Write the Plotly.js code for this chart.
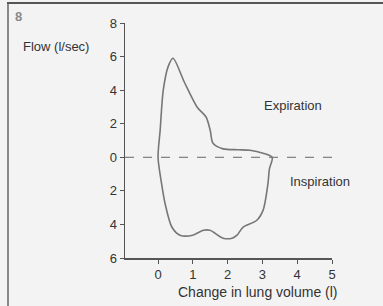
<!DOCTYPE html>
<html>
<head>
<meta charset="utf-8">
<script src="https://cdn.plot.ly/plotly-3.0.1.min.js"></script>
<style>
html,body{margin:0;padding:0;background:#f3f3f3;}
#chart{width:383px;height:306px;}
</style>
</head>
<body>
<div id="chart"></div>
<script>
// Flow-volume loop: volume (l) and flow (l/sec), expiration positive, inspiration negative
const volume = [0, 0.06, 0.15, 0.29, 0.43, 0.75, 1.12, 1.38, 1.5, 1.58, 1.87, 2.3, 2.64, 3.02, 3.28,
                3.2, 3.16, 3.02, 2.84, 2.44, 2.27, 2.13, 1.87, 1.49, 1.3, 1.0, 0.63, 0.4, 0.2, 0.1, 0];
const flow   = [0, 1.6, 4.0, 5.4, 5.9, 4.5, 3.0, 2.4, 1.6, 0.83, 0.5, 0.45, 0.42, 0.24, 0,
                -0.7, -1.55, -3.15, -3.75, -4.17, -4.64, -4.82, -4.82, -4.35, -4.35, -4.64, -4.64, -4.17, -2.74, -1.55, 0];
const yTickVals = [-6, -4, -2, 0, 2, 4, 6, 8];
const yTickText = ['6', '4', '2', '0', '2', '4', '6', '8'];
const xTickVals = [0, 1, 2, 3, 4, 5];
const xTickText = ['0', '1', '2', '3', '4', '5'];
const zeroLineX = [-0.95, 5];
const zeroLineY = [0, 0];

const traces = [
  {x: zeroLineX, y: zeroLineY, mode: 'lines', line: {color: '#666', width: 1, dash: 'dash'}, hoverinfo: 'skip', showlegend: false},
  {x: volume, y: flow, mode: 'lines', line: {color: '#777', width: 1.6, shape: 'spline', smoothing: 0.8}, showlegend: false}
];

const M = {l: 125, r: 51, t: 23, b: 48};
const plotW = 383 - M.l - M.r, plotH = 306 - M.t - M.b;
const px = v => (v - M.l) / plotW;
const py = v => 1 - (v - M.t) / plotH;
const txt = '#333';

const layout = {
  width: 383, height: 306,
  margin: M,
  paper_bgcolor: '#f3f3f3', plot_bgcolor: '#f3f3f3',
  font: {family: 'Liberation Sans, Arial, sans-serif', size: 13, color: txt},
  showlegend: false,
  xaxis: {range: [-0.95, 5], tickvals: xTickVals, ticktext: xTickText, showgrid: false, zeroline: false,
          showline: true, linecolor: '#555', linewidth: 1.5, ticks: 'outside', ticklen: 4, tickcolor: '#555',
          tickfont: {size: 13, color: txt}},
  yaxis: {range: [-6, 8], tickvals: yTickVals, ticktext: yTickText, showgrid: false, zeroline: false,
          showline: true, linecolor: '#555', linewidth: 1.5, ticks: 'outside', ticklen: 4, tickcolor: '#555',
          tickfont: {size: 13, color: txt}},
  annotations: [
    {xref: 'paper', yref: 'paper', x: px(21), y: py(46), xanchor: 'left', yanchor: 'middle', showarrow: false,
     text: 'Flow (l/sec)', font: {size: 13, color: txt}},
    {xref: 'x', yref: 'y', x: 3.87, y: 3.1, xanchor: 'center', yanchor: 'middle', showarrow: false,
     text: 'Expiration', font: {size: 13, color: txt}},
    {xref: 'x', yref: 'y', x: 4.66, y: -1.45, xanchor: 'center', yanchor: 'middle', showarrow: false,
     text: 'Inspiration', font: {size: 13, color: txt}},
    {xref: 'paper', yref: 'paper', x: px(258), y: py(292), xanchor: 'center', yanchor: 'middle', showarrow: false,
     text: 'Change in lung volume (l)', font: {size: 14, color: txt}},
    {xref: 'paper', yref: 'paper', x: px(18), y: py(16), xanchor: 'center', yanchor: 'middle', showarrow: false,
     text: '<b>8</b>', font: {size: 13, color: '#888'}}
  ],
  shapes: [
    {type: 'line', xref: 'paper', yref: 'paper', x0: px(7), x1: px(383), y0: py(3), y1: py(3), line: {color: '#555', width: 2}},
    {type: 'line', xref: 'paper', yref: 'paper', x0: px(8), x1: px(8), y0: py(3), y1: py(306), line: {color: '#666', width: 1.5}}
  ]
};
Plotly.newPlot('chart', traces, layout, {displayModeBar: false, staticPlot: true});
</script>
</body>
</html>
